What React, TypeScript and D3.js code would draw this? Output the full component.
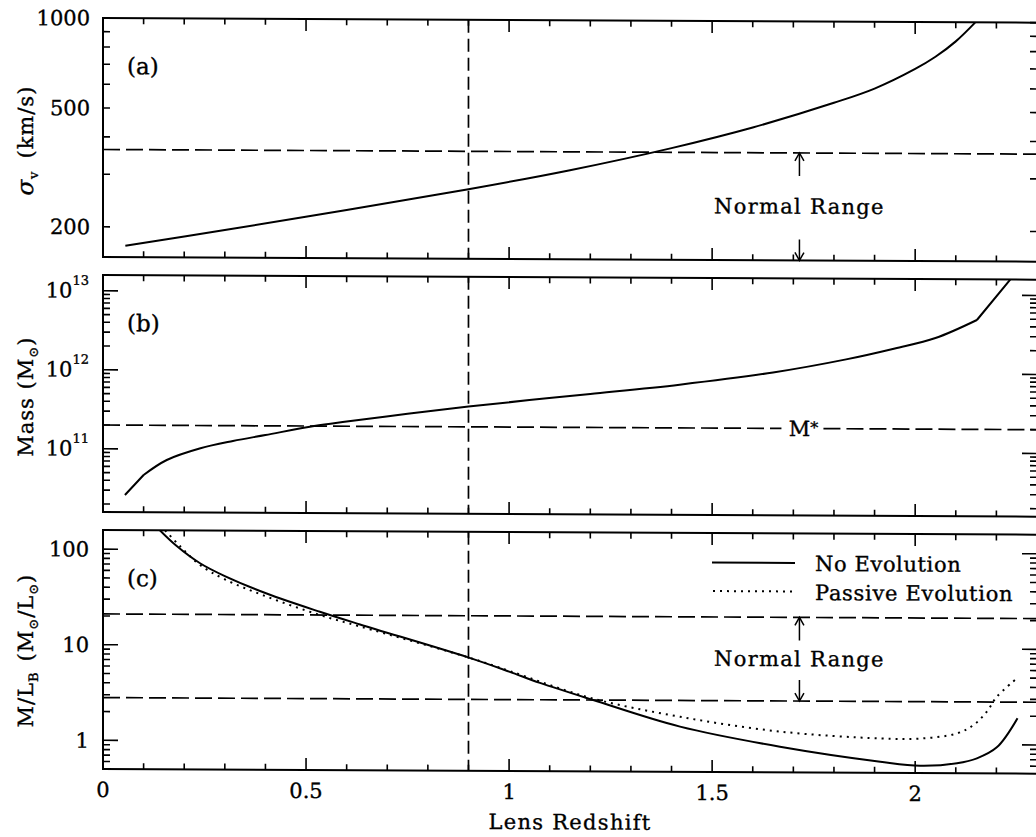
import React from 'react';
import * as d3 from 'd3';

// ---------- data ----------
const sigmaZ = [0.055, 0.3, 0.6, 0.9, 1.15, 1.4, 1.6, 1.8, 1.9, 2.0, 2.05, 2.1, 2.148];
const sigmaV = [173, 196, 230, 271, 315, 375, 441, 535, 598, 697, 766, 863, 1000];

const massZ = [0.054, 0.1, 0.157, 0.24, 0.32, 0.4, 0.52, 0.6, 0.75, 0.9, 1.05, 1.2, 1.42, 1.65, 1.83, 1.95, 2.05, 2.152, 2.234];
const massM = [2.61e10, 4.69e10, 7.28e10, 1.03e11, 1.28e11, 1.53e11, 2.0e11, 2.29e11, 2.9e11, 3.61e11, 4.4e11, 5.31e11, 7.05e11, 1.02e12, 1.51e12, 2.09e12, 2.85e12, 4.85e12, 1.585e13];

const mlNoEvoZ = [0.14, 0.18, 0.239, 0.3, 0.403, 0.534, 0.633, 0.899, 1.0, 1.076, 1.207, 1.421, 1.667, 1.914, 2.012, 2.103, 2.152, 2.201, 2.252];
const mlNoEvo = [158.5, 110, 72, 53, 35, 22.7, 16.8, 7.7, 5.5, 4.2, 2.8, 1.49, 0.93, 0.656, 0.598, 0.638, 0.72, 0.94, 1.9];

const mlPassZ = [0.153, 0.19, 0.239, 0.3, 0.403, 0.534, 0.633, 0.9, 1.0, 1.2, 1.421, 1.667, 1.914, 2.012, 2.103, 2.144, 2.176, 2.201, 2.246];
const mlPass = [158.5, 108, 69, 49, 32.5, 21, 16, 7.7, 5.6, 2.95, 1.89, 1.34, 1.15, 1.15, 1.31, 1.61, 2.21, 3.18, 4.78];

const xTickLabels = [0, 0.5, 1, 1.5, 2];
const sigmaTickLabels = [200, 500, 1000];
const massTickExps = [11, 12, 13];
const mlTickLabels = [1, 10, 100];

const sigmaNormalTop = 363;
const massStar = 2e11;
const mlNormalLow = 2.8;
const mlNormalHigh = 21;
const lensZ = 0.9;
const arrowZ = 1.715;

const legendLabels = ['No Evolution', 'Passive Evolution'];

// ---------- layout ----------
const W = 1036;
const H = 837;
const X0 = 103;
const X1 = 1037;
const SKEW = 0.005;
const FONT = "'DejaVu Serif', 'Liberation Serif', serif";
const FS = 21;
const TEXT_STROKE = 0.35;

const x = d3.scaleLinear().domain([0, 2.3]).range([X0, X1]);
const ya = d3.scaleLog().domain([Math.pow(10, 2.2), 1000]).range([257, 18]);
const yb = d3.scaleLog().domain([Math.pow(10, 10.2), Math.pow(10, 13.2)]).range([512, 275]);
const yc = d3.scaleLog().domain([Math.pow(10, -0.3), Math.pow(10, 2.2)]).range([769, 530]);

function logTicks(scale: any): { v: number; major: boolean }[] {
  const [lo, hi] = scale.domain();
  const out: { v: number; major: boolean }[] = [];
  for (let e = Math.floor(Math.log10(lo)); e <= Math.ceil(Math.log10(hi)); e++) {
    for (let m = 1; m <= 9; m++) {
      const v = m * Math.pow(10, e);
      if (v >= lo * 0.999 && v <= hi * 1.001) out.push({ v, major: m === 1 });
    }
  }
  return out;
}

const xMinor = d3.range(0, 23).map((i) => i / 10);

function Frame({ y, majorLen, minorLen, id }: any) {
  const [b, t] = y.range();
  const yt = logTicks(y);
  return (
    <g>
      <clipPath id={id}>
        <rect x={X0} y={t} width={X1 - X0} height={b - t} />
      </clipPath>
      <rect x={X0} y={t} width={X1 - X0} height={b - t} fill="none" stroke="#000" strokeWidth={2} />
      {xMinor.map((z, i) => {
        const major = i % 5 === 0;
        const L = major ? 12 : 6;
        const px = x(z);
        return (
          <g key={'xt' + i}>
            <line x1={px} x2={px} y1={b} y2={b - L} stroke="#000" strokeWidth={1.6} />
            <line x1={px} x2={px} y1={t} y2={t + L} stroke="#000" strokeWidth={1.6} />
          </g>
        );
      })}
      {yt.map((tk, i) => {
        const L = tk.major ? majorLen : minorLen;
        const py = y(tk.v);
        return (
          <g key={'yt' + i}>
            <line x1={X0} x2={X0 + L} y1={py} y2={py} stroke="#000" strokeWidth={1.6} />
            <line x1={X1} x2={X1 - L} y1={py} y2={py} stroke="#000" strokeWidth={1.6} />
          </g>
        );
      })}
      <line
        x1={x(lensZ)}
        x2={x(lensZ)}
        y1={t}
        y2={b}
        stroke="#000"
        strokeWidth={1.7}
        strokeDasharray="13,6"
      />
    </g>
  );
}

function HDash({ y, v }: any) {
  return (
    <line x1={X0} x2={X1} y1={y(v)} y2={y(v)} stroke="#000" strokeWidth={1.7} strokeDasharray="17,6" />
  );
}

function Arrow({ px, from, to }: any) {
  const dir = to < from ? 1 : -1;
  return (
    <g stroke="#000" strokeWidth={1.5} fill="none">
      <line x1={px} x2={px} y1={from} y2={to} />
      <path d={`M${px - 4.5},${to + dir * 8} L${px},${to} L${px + 4.5},${to + dir * 8}`} />
    </g>
  );
}

function NormalRange({ top, bottom }: any) {
  const px = x(arrowZ);
  const mid = (top + bottom) / 2;
  return (
    <g>
      <Arrow px={px} from={top + 23} to={top} />
      <text x={px} y={mid + 7} textAnchor="middle" fontSize={FS} letterSpacing={1.3}>
        Normal Range
      </text>
      <Arrow px={px} from={bottom - 21} to={bottom} />
    </g>
  );
}

export default function App() {
  const smooth = (ys: any) =>
    d3
      .line<[number, number]>()
      .x((d) => x(d[0]))
      .y((d) => ys(d[1]))
      .curve(d3.curveCatmullRom.alpha(0.5));
  const straight = (ys: any) =>
    d3
      .line<[number, number]>()
      .x((d) => x(d[0]))
      .y((d) => ys(d[1]));

  const sigmaPts = sigmaZ.map((z, i) => [z, sigmaV[i]] as [number, number]);
  const massPts = massZ.map((z, i) => [z, massM[i]] as [number, number]);
  const noEvoPts = mlNoEvoZ.map((z, i) => [z, mlNoEvo[i]] as [number, number]);
  const passPts = mlPassZ.map((z, i) => [z, mlPass[i]] as [number, number]);

  const n = massPts.length;
  const massPath =
    (straight(yb)(massPts.slice(0, 2)) || '') +
    (smooth(yb)(massPts.slice(1, n - 1)) || '') +
    (straight(yb)(massPts.slice(n - 2)) || '');

  const mStarY = yb(massStar);
  const mStarX = x(arrowZ) + 4;

  return (
    <svg
      width={W}
      height={H}
      viewBox={`0 0 ${W} ${H}`}
      style={{ position: 'absolute', left: 0, top: 0, display: 'block', background: '#fff' }}
      fontFamily={FONT}
    >
      <rect x={0} y={0} width={W} height={H} fill="#fff" />
      <g transform={`matrix(1,${SKEW},0,1,0,${-SKEW * X0})`}>
        {/* ---------- panel (a) ---------- */}
        <Frame y={ya} majorLen={7} minorLen={7} id="clipA" />
        <HDash y={ya} v={sigmaNormalTop} />
        <path d={smooth(ya)(sigmaPts) || ''} fill="none" stroke="#000" strokeWidth={2} clipPath="url(#clipA)" />

        {/* ---------- panel (b) ---------- */}
        <Frame y={yb} majorLen={15} minorLen={7} id="clipB" />
        <line x1={X0} x2={mStarX - 22} y1={mStarY} y2={mStarY} stroke="#000" strokeWidth={1.7} strokeDasharray="17,6" />
        <line x1={mStarX + 20} x2={X1} y1={mStarY} y2={mStarY} stroke="#000" strokeWidth={1.7} strokeDasharray="17,6" />
        <path d={massPath} fill="none" stroke="#000" strokeWidth={2} strokeLinejoin="round" clipPath="url(#clipB)" />

        {/* ---------- panel (c) ---------- */}
        <Frame y={yc} majorLen={15} minorLen={7} id="clipC" />
        <HDash y={yc} v={mlNormalHigh} />
        <HDash y={yc} v={mlNormalLow} />
        <path d={smooth(yc)(noEvoPts) || ''} fill="none" stroke="#000" strokeWidth={2} clipPath="url(#clipC)" />
        <path
          d={smooth(yc)(passPts) || ''}
          fill="none"
          stroke="#000"
          strokeWidth={2}
          strokeDasharray="2,5"
          clipPath="url(#clipC)"
        />
        <line x1={712} x2={795} y1={559.5} y2={559.5} stroke="#000" strokeWidth={2} />
        <line x1={713} x2={795} y1={588} y2={588} stroke="#000" strokeWidth={2} strokeDasharray="2,5" />

        {/* ---------- all texts ---------- */}
        <g fill="#000" stroke="#000" strokeWidth={TEXT_STROKE}>
          <NormalRange top={ya(sigmaNormalTop)} bottom={ya.range()[0]} />
          {sigmaTickLabels.map((v) => (
            <text key={v} x={90} y={ya(v) + 7.5} textAnchor="end" fontSize={FS}>
              {v}
            </text>
          ))}
          <text x={127} y={ya.range()[1] + 56} fontSize={23}>(a)</text>
          <text transform={`translate(33,141) rotate(-90)`} textAnchor="middle" fontSize={FS} letterSpacing={1}>
            <tspan fontStyle="italic" fontSize={23}>σ</tspan>
            <tspan fontSize={13} dy={5}>v</tspan>
            <tspan dy={-5} dx={12}>(km/s)</tspan>
          </text>

          <text x={mStarX} y={mStarY + 7.5} textAnchor="middle" fontSize={FS}>
            M<tspan fontSize={16} dy={-3}>*</tspan>
          </text>
          {massTickExps.map((e) => (
            <text key={e} x={89} y={yb(Math.pow(10, e)) + 7} textAnchor="end" fontSize={FS}>
              10<tspan fontSize={13} dy={-13}>{e}</tspan>
            </text>
          ))}
          <text x={127} y={yb.range()[1] + 56} fontSize={23}>(b)</text>
          <text transform={`translate(33,397) rotate(-90)`} textAnchor="middle" fontSize={FS} letterSpacing={1}>
            <tspan>Mass  (M</tspan>
            <tspan fontSize={13} dy={5}>⊙</tspan>
            <tspan dy={-5}>)</tspan>
          </text>

          <NormalRange top={yc(mlNormalHigh)} bottom={yc(mlNormalLow)} />
          {mlTickLabels.map((v) => (
            <text key={v} x={89} y={yc(v) + 7.5} textAnchor="end" fontSize={FS}>
              {v}
            </text>
          ))}
          <text x={127} y={yc.range()[1] + 56} fontSize={23}>(c)</text>
          <text transform={`translate(33,651) rotate(-90)`} textAnchor="middle" fontSize={FS} letterSpacing={1}>
            <tspan>M/L</tspan>
            <tspan fontSize={13} dy={5}>B</tspan>
            <tspan dy={-5} dx={10}>(M</tspan>
            <tspan fontSize={13} dy={5}>⊙</tspan>
            <tspan dy={-5}>/L</tspan>
            <tspan fontSize={13} dy={5}>⊙</tspan>
            <tspan dy={-5}>)</tspan>
          </text>

          <text x={815} y={567.5} fontSize={FS} letterSpacing={0.6}>{legendLabels[0]}</text>
          <text x={815} y={596.5} fontSize={FS} letterSpacing={0.7}>{legendLabels[1]}</text>

          {xTickLabels.map((v) => (
            <text key={v} x={x(v)} y={797} textAnchor="middle" fontSize={FS}>
              {String(v)}
            </text>
          ))}
          <text x={(X0 + X1) / 2} y={827} textAnchor="middle" fontSize={FS} letterSpacing={1.3}>
            Lens Redshift
          </text>
        </g>
      </g>
    </svg>
  );
}
